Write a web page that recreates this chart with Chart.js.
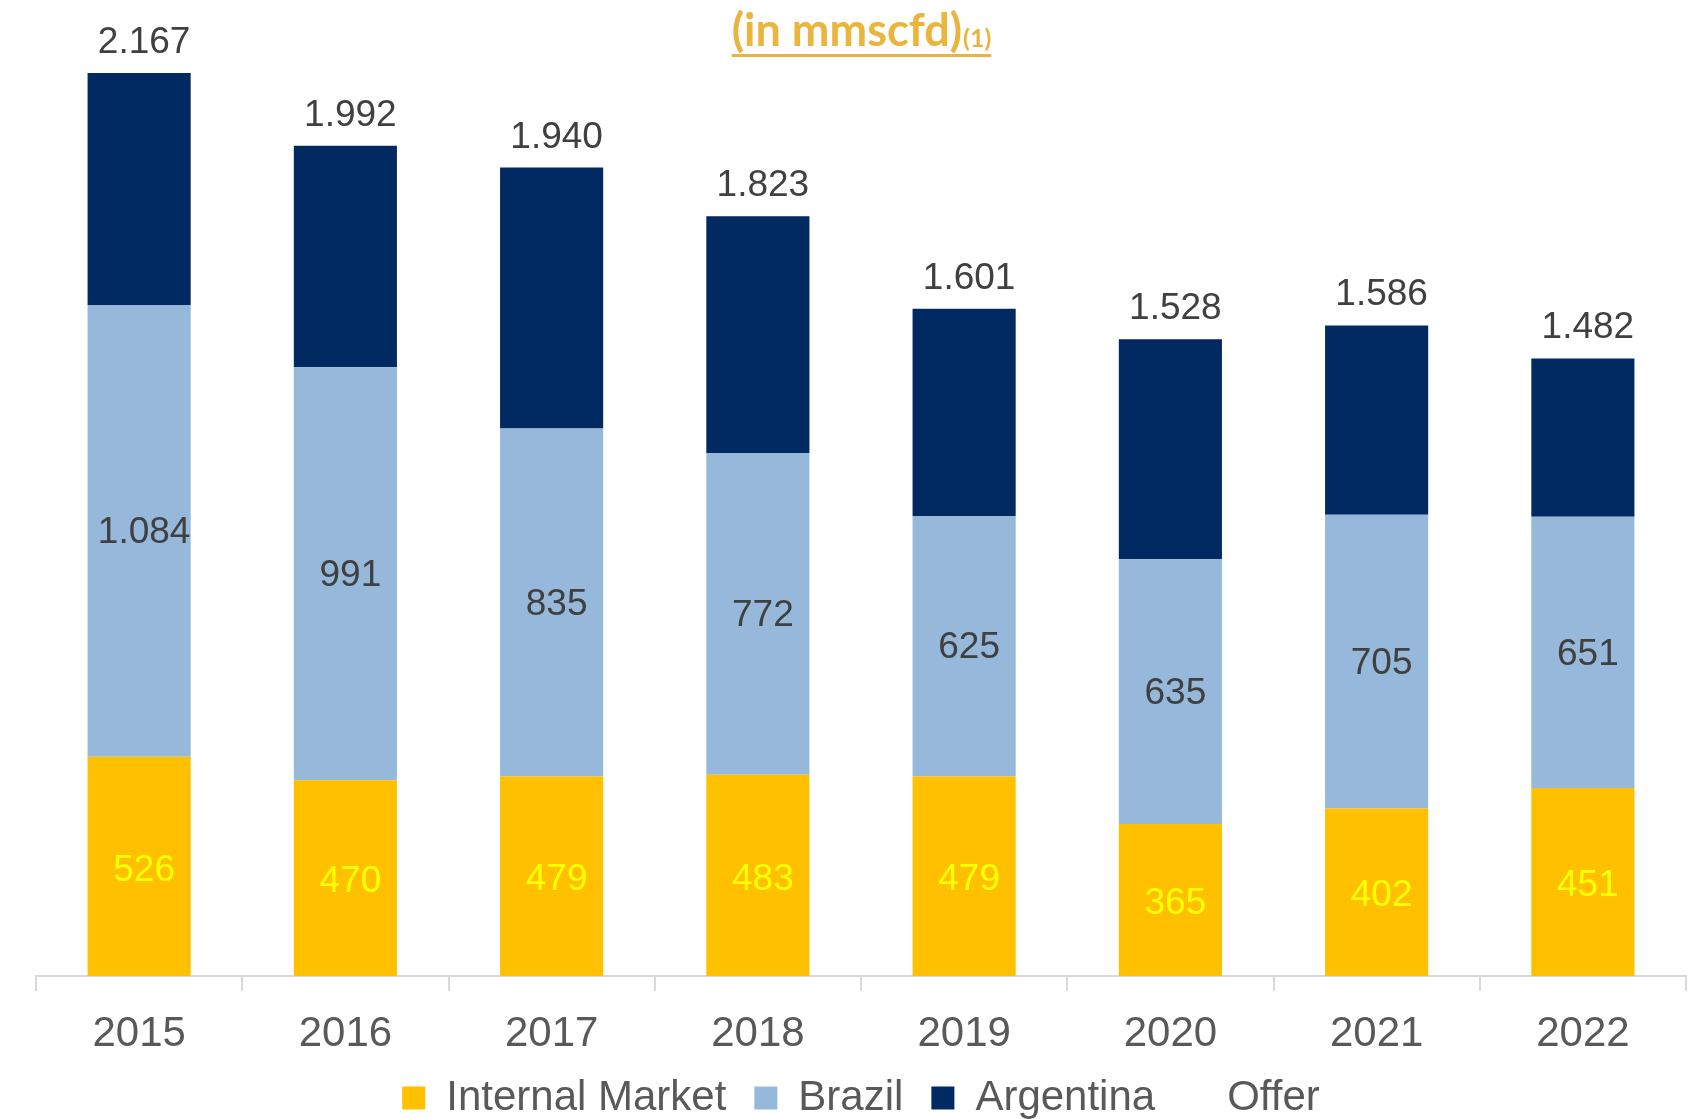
<!DOCTYPE html>
<html>
<head>
<meta charset="utf-8">
<script src="https://cdn.jsdelivr.net/npm/chart.js@4"></script>
<style>
  html, body { margin: 0; padding: 0; background: #ffffff; }
  #wrap { width: 1706px; height: 1119px; position: relative; }
</style>
</head>
<body>
<div id="wrap"><canvas id="c" width="1706" height="1119"></canvas></div>
<script>
const years = ['2015', '2016', '2017', '2018', '2019', '2020', '2021', '2022'];
const internalMarket = [526, 470, 479, 483, 479, 365, 402, 451];
const brazil = [1084, 991, 835, 772, 625, 635, 705, 651];
const argentina = [557, 531, 626, 568, 497, 528, 454, 380];
const offer = [2167, 1992, 1940, 1823, 1601, 1528, 1586, 1482];
const seriesNames = ['Internal Market', 'Brazil', 'Argentina', 'Offer'];
const titleText = '(in mmscfd)';
const titleNote = '(1)';

function fmt(v) {
  return String(v).replace(/\B(?=(\d{3})+(?!\d))/g, '.');
}

const labelPlugin = {
  id: 'valueLabels',
  afterDatasetsDraw(chart) {
    const ctx = chart.ctx;
    ctx.save();
    ctx.font = '37px "Liberation Sans", Arial, sans-serif';
    ctx.textAlign = 'center';
    const dx = 5;
    // Internal market labels
    const m0 = chart.getDatasetMeta(0);
    ctx.fillStyle = '#FFFF00';
    ctx.textBaseline = 'middle';
    m0.data.forEach((el, i) => {
      const cy = (el.y + el.base) / 2;
      ctx.fillText(fmt(internalMarket[i]), el.x + dx, cy + 4);
    });
    // Brazil labels
    const m1 = chart.getDatasetMeta(1);
    ctx.fillStyle = '#404040';
    m1.data.forEach((el, i) => {
      const cy = (el.y + el.base) / 2;
      ctx.fillText(fmt(brazil[i]), el.x + dx, cy + 2);
    });
    // Offer totals above the top of each stack
    const m2 = chart.getDatasetMeta(2);
    ctx.textBaseline = 'alphabetic';
    m2.data.forEach((el, i) => {
      ctx.fillText(fmt(offer[i]), el.x + dx, el.y - 20);
    });
    ctx.restore();
  }
};

const titlePlugin = {
  id: 'goldTitle',
  afterDraw(chart) {
    const ctx = chart.ctx;
    ctx.save();
    const mainFont = 'bold 45px Lato, "Open Sans", sans-serif';
    const noteFont = 'bold 25px Lato, "Open Sans", sans-serif';
    ctx.font = mainFont;
    const w1 = ctx.measureText(titleText).width;
    ctx.font = noteFont;
    const w2 = ctx.measureText(titleNote).width;
    const total = w1 + w2;
    const cx = (chart.chartArea.left + chart.chartArea.right) / 2;
    const x0 = cx - total / 2;
    const baseY = 46;
    ctx.fillStyle = '#E9B53C';
    ctx.textBaseline = 'alphabetic';
    ctx.textAlign = 'left';
    ctx.font = mainFont;
    ctx.fillText(titleText, x0, baseY);
    ctx.font = noteFont;
    ctx.fillText(titleNote, x0 + w1 + 1, baseY + 1);
    ctx.fillRect(x0, baseY + 8, total + 1, 3);
    ctx.restore();
  }
};

new Chart(document.getElementById('c'), {
  data: {
    labels: years,
    datasets: [
      { type: 'bar', label: seriesNames[0], data: internalMarket, backgroundColor: '#FFC000', borderWidth: 0, stack: 's' },
      { type: 'bar', label: seriesNames[1], data: brazil, backgroundColor: '#95B8DB', borderWidth: 0, stack: 's' },
      { type: 'bar', label: seriesNames[2], data: argentina, backgroundColor: '#002A61', borderWidth: 0, stack: 's' },
      { type: 'line', label: seriesNames[3], data: offer, borderColor: 'rgba(0,0,0,0)', backgroundColor: 'rgba(0,0,0,0)', pointRadius: 0, borderWidth: 0 }
    ]
  },
  options: {
    responsive: false,
    animation: false,
    devicePixelRatio: 1,
    layout: { padding: { left: 36, right: 20, top: 0, bottom: 0 } },
    datasets: { bar: { categoryPercentage: 1.0, barPercentage: 0.5 } },
    scales: {
      x: {
        stacked: true,
        offset: true,
        grid: { display: true, drawOnChartArea: false, drawTicks: true, tickLength: 15, color: '#D9D9D9', lineWidth: 2, offset: true },
        border: { display: true, color: '#D9D9D9', width: 2 },
        ticks: { color: '#595959', font: { family: '"Liberation Sans", Arial, sans-serif', size: 42, lineHeight: 1.0 }, padding: 22, maxRotation: 0, autoSkip: false },
        afterFit(scale) { scale.height = 73; }
      },
      y: {
        stacked: true,
        display: false,
        min: 0,
        max: 2342
      }
    },
    plugins: {
      title: { display: false },
      tooltip: { enabled: false },
      legend: {
        display: true,
        position: 'bottom',
        maxHeight: 70,
        labels: {
          boxWidth: 23,
          boxHeight: 23,
          padding: 28,
          color: '#595959',
          font: { family: '"Liberation Sans", Arial, sans-serif', size: 42 }
        }
      }
    }
  },
  plugins: [labelPlugin, titlePlugin]
});
</script>
</body>
</html>
